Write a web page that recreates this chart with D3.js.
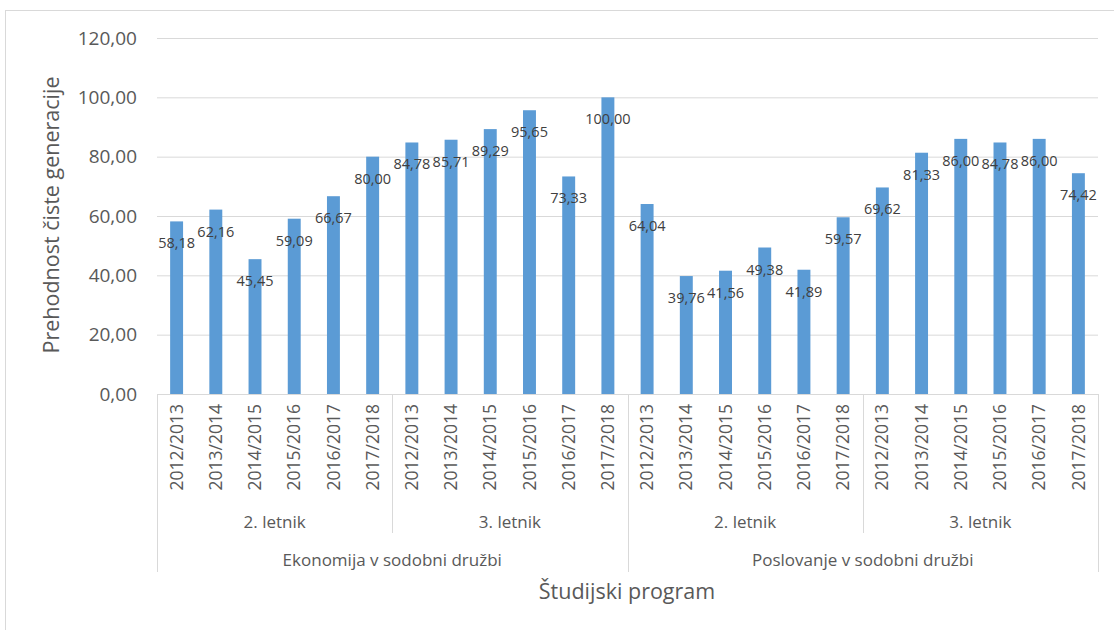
<!DOCTYPE html>
<html><head><meta charset="utf-8">
<script src="https://cdn.jsdelivr.net/npm/d3@7"></script>
<style>body{margin:0;background:#fff;}svg{display:block;font-family:"Open Sans",sans-serif;}</style>
</head><body>
<script>
const years = ["2012/2013","2013/2014","2014/2015","2015/2016","2016/2017","2017/2018"];
const letniki = ["2. letnik","3. letnik"];
const programs = ["Ekonomija v sodobni družbi","Poslovanje v sodobni družbi"];
const ekon2 = [58.18,62.16,45.45,59.09,66.67,80.00];
const ekon3 = [84.78,85.71,89.29,95.65,73.33,100.00];
const posl2 = [64.04,39.76,41.56,49.38,41.89,59.57];
const posl3 = [69.62,81.33,86.00,84.78,86.00,74.42];
const yTicks = [0,20,40,60,80,100,120];
const yTitle = "Prehodnost čiste generacije";
const xTitle = "Študijski program";

const seriesByGroup = [[ekon2, ekon3],[posl2, posl3]];
const data = [];
programs.forEach((p,pi)=>letniki.forEach((l,li)=>years.forEach((y,yi)=>{
  data.push({key:p+"|"+l+"|"+y, program:p, letnik:l, year:y, value:seriesByGroup[pi][li][yi]});
})));

const W=1114,H=630;
const svg=d3.select("body").append("svg").attr("width",W).attr("height",H);
svg.append("rect").attr("x",5.5).attr("y",10.5).attr("width",1200).attr("height",700).attr("fill","#fff").attr("stroke","#D9D9D9");

const pL=157,pR=1098,pT=38,pB=394;
const x=d3.scaleBand().domain(data.map(d=>d.key)).range([pL,pR]).paddingInner(0.67).paddingOuter(0.335);
const y=d3.scaleLinear().domain([0,120]).range([pB,pT]);
const fmt=v=>d3.format(".2f")(v).replace(".",",");
const txt="#595959";

svg.append("g").selectAll("line").data(yTicks.filter(t=>t>0)).join("line")
  .attr("x1",pL).attr("x2",pR).attr("y1",d=>y(d)+0.5).attr("y2",d=>y(d)+0.5)
  .attr("stroke","#D9D9D9").attr("stroke-width",1);

const ya=svg.append("g").attr("transform",`translate(${pL},0)`)
  .call(d3.axisLeft(y).tickValues(yTicks).tickFormat(fmt).tickSize(0).tickPadding(20));
ya.select(".domain").remove();
ya.selectAll("text").attr("fill",txt).attr("font-size",19).attr("font-family","'Open Sans',sans-serif");

svg.append("g").selectAll("rect").data(data).join("rect")
  .attr("x",d=>x(d.key)).attr("width",x.bandwidth())
  .attr("y",d=>y(d.value)).attr("height",d=>pB-y(d.value))
  .attr("fill","#5B9BD5");

svg.append("g").selectAll("text").data(data).join("text")
  .attr("x",d=>x(d.key)+x.bandwidth()/2).attr("y",d=>y(d.value)+27)
  .attr("text-anchor","middle").attr("font-size",14.5).attr("fill","#404040")
  .attr("font-family","'Open Sans',sans-serif")
  .text(d=>fmt(d.value));

const xa=svg.append("g").attr("transform",`translate(0,${pB})`)
  .call(d3.axisBottom(x).tickSize(0).tickFormat(k=>k.split("|")[2]));
xa.select(".domain").remove();
xa.selectAll("text").attr("transform","rotate(-90)").attr("text-anchor","end")
  .attr("x",-10).attr("y",0).attr("dy","0.35em").attr("font-size",17.5).attr("fill",txt)
  .attr("font-family","'Open Sans',sans-serif");

const axisStroke="#D9D9D9";
svg.append("line").attr("x1",pL).attr("x2",pR).attr("y1",pB+0.5).attr("y2",pB+0.5).attr("stroke",axisStroke);
const groupW=(pR-pL)/4;
const divs=[];
for(let i=0;i<=4;i++){
  divs.push({x:pL+i*groupW,y2:(i%2===0)?572:533});
}
svg.append("g").selectAll("line").data(divs).join("line")
  .attr("x1",d=>Math.round(d.x)+0.5).attr("x2",d=>Math.round(d.x)+0.5)
  .attr("y1",pB).attr("y2",d=>d.y2).attr("stroke",axisStroke);

const lab=[];
programs.forEach((p,pi)=>letniki.forEach((l,li)=>lab.push({t:l,c:pL+(pi*2+li+0.5)*groupW})));
svg.append("g").selectAll("text").data(lab).join("text")
  .attr("x",d=>d.c).attr("y",528).attr("text-anchor","middle").attr("font-size",17).attr("fill",txt).text(d=>d.t);
svg.append("g").selectAll("text").data(programs).join("text")
  .attr("x",(d,i)=>pL+(i*2+1)*groupW).attr("y",566).attr("text-anchor","middle").attr("font-size",17).attr("fill",txt).text(d=>d);

svg.append("text").attr("x",627).attr("y",599).attr("text-anchor","middle")
  .attr("font-size",21.5).attr("fill",txt).text(xTitle);
svg.append("text").attr("transform",`translate(59,${(pT+pB)/2-1}) rotate(-90)`).attr("text-anchor","middle")
  .attr("font-size",21.5).attr("fill",txt).text(yTitle);
</script>
</body></html>
